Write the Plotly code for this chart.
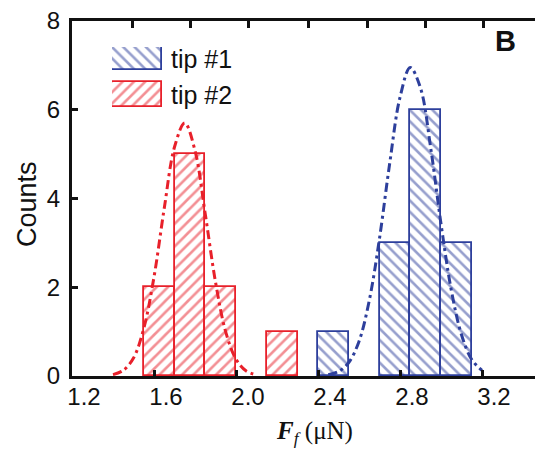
import plotly.graph_objects as go

# ---- data ----
tip2_centers = [1.625, 1.775, 1.925, 2.225]
tip2_counts = [2, 5, 2, 1]
tip1_centers = [2.475, 2.775, 2.925, 3.075]
tip1_counts = [1, 3, 6, 3]
bin_width = 0.15

# Gaussian fit curves
fit2_x = [1.40, 1.45, 1.50, 1.55, 1.60, 1.65, 1.70, 1.75, 1.80, 1.85,
          1.90, 1.95, 2.00, 2.05, 2.10]
fit2_y = [0.032, 0.126, 0.405, 1.07, 2.23, 3.78, 5.16, 5.70, 5.08, 3.65,
          2.12, 0.99, 0.38, 0.113, 0.028]
fit1_x = [2.45, 2.50, 2.55, 2.60, 2.65, 2.70, 2.75, 2.80, 2.85, 2.90, 2.95,
          3.00, 3.05, 3.10, 3.15, 3.20]
fit1_y = [0.028, 0.101, 0.305, 0.78, 1.70, 3.10, 4.80, 6.28, 6.95, 6.49, 5.13,
          3.43, 1.94, 0.93, 0.37, 0.127]

x_ticks = [1.2, 1.6, 2.0, 2.4, 2.8, 3.2]
x_tick_labels = ["1.2", "1.6", "2.0", "2.4", "2.8", "3.2"]
y_ticks = [0, 2, 4, 6, 8]
legend_labels = ["tip #1", "tip #2"]

RED = "#e8202a"
BLUE = "#2d3f9c"
FONT = "Liberation Sans, Arial, sans-serif"

W, H = 535, 458
L, T, B = 72, 21, 82
PW = W - L
PH = H - T - B


def px_x(p):
    return (p - L) / PW


def px_y(p):
    return (H - B - p) / PH


def hatch(color, shape):
    return dict(color="white", line=dict(color=color, width=1.8),
                pattern=dict(shape=shape, fgcolor=color, bgcolor="white",
                             size=8, solidity=0.33))


fig = go.Figure()

# histogram bars
fig.add_trace(go.Bar(x=tip2_centers, y=tip2_counts, width=bin_width,
                     marker=hatch(RED, "/"), showlegend=False))
fig.add_trace(go.Bar(x=tip1_centers, y=tip1_counts, width=bin_width,
                     marker=hatch(BLUE, "\\"), showlegend=False))

# fit curves
fig.add_trace(go.Scatter(x=fit2_x, y=fit2_y, mode="lines", line_shape="spline",
                         line=dict(color=RED, width=3, dash="9px,4px,3px,4px"),
                         showlegend=False))
fig.add_trace(go.Scatter(x=fit1_x, y=fit1_y, mode="lines", line_shape="spline",
                         line=dict(color=BLUE, width=3, dash="9px,4px,3px,4px"),
                         showlegend=False))

# top axis (spine + ticks) on an overlay axis
fig.add_trace(go.Scatter(x=[0], y=[0], xaxis="x2", yaxis="y", mode="markers",
                         marker=dict(opacity=0), showlegend=False, hoverinfo="skip"))

# legend swatches drawn as patterned bars on a small inset axis
fig.add_trace(go.Bar(x=[0.5], y=[0.383], base=[0.617], width=1, xaxis="x3", yaxis="y3",
                     marker=hatch(BLUE, "\\"), showlegend=False, hoverinfo="skip"))
fig.add_trace(go.Bar(x=[0.5], y=[0.417], base=[0.0], width=1, xaxis="x3", yaxis="y3",
                     marker=hatch(RED, "/"), showlegend=False, hoverinfo="skip"))

x_max = 1.2 + PW / 205.0

fig.update_layout(
    width=W, height=H,
    margin=dict(l=L, r=0, t=T, b=B, pad=0),
    paper_bgcolor="white", plot_bgcolor="white",
    barmode="overlay",
    bargap=0,
    showlegend=False,
    xaxis=dict(
        range=[1.2, x_max], tickvals=x_ticks, ticktext=x_tick_labels,
        ticks="inside", ticklen=6, tickwidth=2.5, tickcolor="#111",
        showline=True, linewidth=3, linecolor="#111",
        showgrid=False, zeroline=False,
        tickfont=dict(family=FONT, size=24, color="#111"),
        ticklabelshift=12, ticklabelstandoff=-3,
    ),
    yaxis=dict(
        range=[0, 8], tickvals=y_ticks,
        ticks="inside", ticklen=6, tickwidth=2.5, tickcolor="#111",
        showline=True, linewidth=3, linecolor="#111",
        showgrid=False, zeroline=False,
        tickfont=dict(family=FONT, size=24, color="#111"),
        ticklabelstandoff=4,
    ),
    xaxis2=dict(
        overlaying="x", side="top", range=[0, PW],
        tickvals=[60, 118, 176, 236, 295, 353, 411],
        showticklabels=False, ticks="inside", ticklen=7, tickwidth=2.5, tickcolor="#111",
        showline=True, linewidth=3, linecolor="#111",
        showgrid=False, zeroline=False,
    ),
    xaxis3=dict(domain=[px_x(112), px_x(162)], range=[0, 1], visible=False,
                anchor="y3", fixedrange=True),
    yaxis3=dict(domain=[px_y(107), px_y(47)], range=[0, 1], visible=False,
                anchor="x3", fixedrange=True),
)

annotations = [
    dict(text="Counts", x=px_x(27), y=px_y(204), xref="paper", yref="paper",
         textangle=-90, showarrow=False, font=dict(family=FONT, size=27, color="#111"),
         xanchor="center", yanchor="middle"),
    dict(text="<b><i>F</i></b><sub><i>f</i></sub> (μN)", x=px_x(314), y=px_y(432),
         xref="paper", yref="paper", showarrow=False,
         font=dict(family="Liberation Serif, Times New Roman, serif", size=25, color="#111"),
         xanchor="center", yanchor="middle"),
    dict(text="<b>B</b>", x=px_x(505), y=px_y(41), xref="paper", yref="paper",
         showarrow=False, font=dict(family=FONT, size=29, color="#111"),
         xanchor="center", yanchor="middle"),
    dict(text=legend_labels[0], x=px_x(169), y=px_y(59), xref="paper", yref="paper",
         showarrow=False, font=dict(family=FONT, size=25, color="#111"),
         xanchor="left", yanchor="middle"),
    dict(text=legend_labels[1], x=px_x(169), y=px_y(95), xref="paper", yref="paper",
         showarrow=False, font=dict(family=FONT, size=25, color="#111"),
         xanchor="left", yanchor="middle"),
]
fig.update_layout(annotations=annotations)

fig.write_html("out.html")
